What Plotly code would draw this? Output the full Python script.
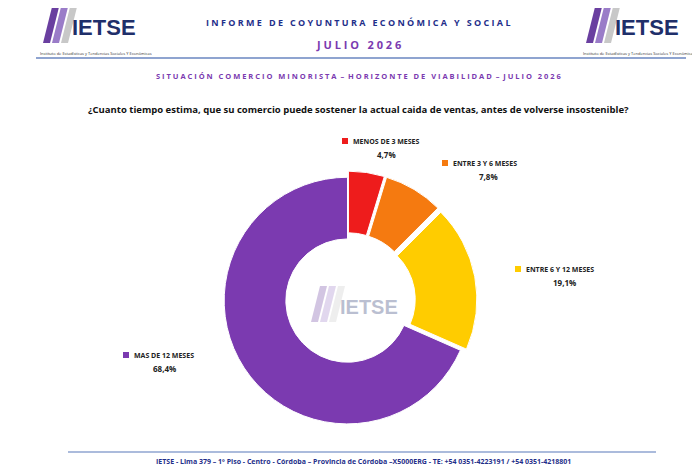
import plotly.graph_objects as go

labels = ["MENOS DE 3 MESES", "ENTRE 3 Y 6 MESES", "ENTRE 6 Y 12 MESES", "MAS DE 12 MESES"]
values = [4.7, 7.8, 19.1, 68.4]
colors = ["#ee1c1c", "#f57a10", "#ffcc00", "#7b3ab0"]
pulls = [0.05, 0.05, 0.05, 0]

fig = go.Figure(go.Pie(
    labels=labels, values=values, hole=0.5, sort=False, direction="clockwise",
    rotation=0, pull=pulls, marker=dict(colors=colors, line=dict(color="white", width=1)),
    textinfo="none", hoverinfo="label+percent", showlegend=False,
    domain=dict(x=[0.30, 0.67], y=[0.09, 0.665]),
))

W, H = 700, 470
DY = -7
def px(x): return x / W
def py(y): return 1 - (y + DY) / H

ann = []
shapes = []
def txt(x, y, s, size, color, bold=True, xanchor="center", family="Open Sans"):
    ann.append(dict(x=px(x), y=py(y), xref="paper", yref="paper", text=(f"<b>{s}</b>" if bold else s),
                    showarrow=False, font=dict(size=size, color=color, family=family), xanchor=xanchor, yanchor="middle"))

txt(350, 22, "I N F O R M E   D E   C O Y U N T U R A   E C O N Ó M I C A   Y   S O C I A L", 9, "#1f2f8a")
txt(350, 44, "J U L I O   2 0 2 6", 11, "#7b3ab0")
txt(350, 75, "S I T U A C I Ó N   C O M E R C I O   M I N O R I S T A  –  H O R I Z O N T E   D E   V I A B I L I D A D  –  J U L I O   2 0 2 6", 7.5, "#7b3ab0")
txt(350, 109, "¿Cuanto tiempo estima, que su comercio puede sostener la actual caida de ventas, antes de volverse insostenible?", 9.5, "#111111")
txt(355, 460, "IETSE - Lima 379 – 1º Piso - Centro - Córdoba – Provincia de Córdoba –X5000ERG - TE: +54 0351-4223191 / +54 0351-4218801", 7, "#1f2f8a")

shapes.append(dict(type="line", xref="paper", yref="paper", x0=px(28), x1=px(678), y0=py(57), y1=py(57), line=dict(color="#8fa4d0", width=2)))
shapes.append(dict(type="line", xref="paper", yref="paper", x0=px(60), x1=px(648), y0=py(451), y1=py(451), line=dict(color="#8fa4d0", width=1.5)))

def lab(x, y, i, pct):
    shapes.append(dict(type="rect", xref="paper", yref="paper", x0=px(x), x1=px(x + 6), y0=py(y + 3), y1=py(y - 3),
                       fillcolor=colors[i], line=dict(width=0)))
    txt(x + 9, y, labels[i], 7, "#222", xanchor="left")
    txt(x + 5 + len(labels[i]) * 2.45, y + 13, pct, 8, "#222")

lab(334, 140, 0, "4,7%")
lab(434, 162, 1, "7,8%")
lab(507, 268, 2, "19,1%")
lab(115, 354, 3, "68,4%")

def logo(x, y, op=1.0, size=22):
    bars = [(x, "#6a3fa0"), (x + 9, "#9a7cc8"), (x + 18, "#c8c8c8")]
    for bx, c in bars:
        shapes.append(dict(type="path", xref="paper", yref="paper", opacity=op,
                           path=f"M {px(bx)} {py(y+32)} L {px(bx+7)} {py(y+32)} L {px(bx+16)} {py(y-4)} L {px(bx+9)} {py(y-4)} Z",
                           fillcolor=c, line=dict(width=0)))
    ann.append(dict(x=px(x + 27), y=py(y + 17), xref="paper", yref="paper", text="<b>IETSE</b>", showarrow=False,
                    xanchor="left", yanchor="middle", opacity=op, font=dict(size=size, color="#1f2f6a", family="Liberation Sans")))

logo(35, 10)
logo(578, 10)
for lx in (30, 573):
    ann.append(dict(x=px(lx), y=py(48), xref="paper", yref="paper", text="Instituto de Estadísticas y Tendencias Sociales Y Económicas",
                    showarrow=False, xanchor="left", font=dict(size=4, color="#333")))
logo(303, 289, op=0.3, size=20)

fig.update_layout(width=W, height=H, margin=dict(l=0, r=0, t=0, b=0), paper_bgcolor="white",
                  annotations=ann, shapes=shapes)
fig.write_html("out.html")
